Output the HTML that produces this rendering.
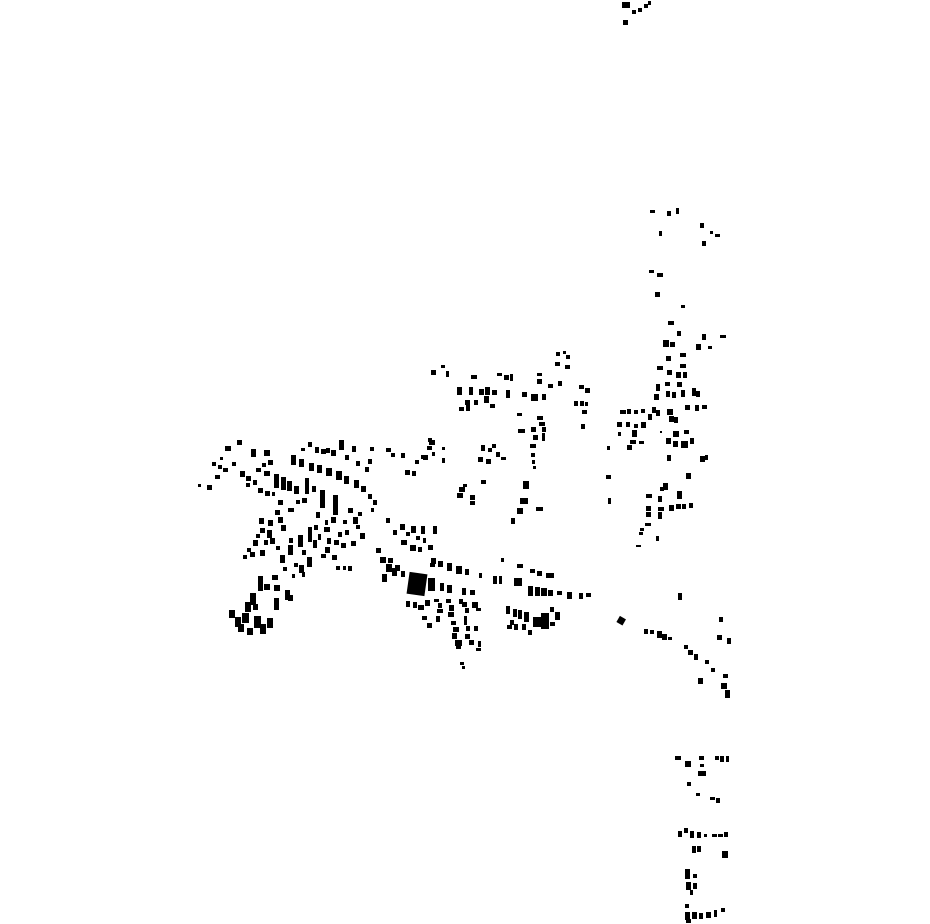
<!DOCTYPE html>
<html><head><meta charset="utf-8"><style>html,body{margin:0;padding:0;background:#fff}svg{display:block}</style></head>
<body>
<svg width="930" height="924" viewBox="0 0 930 924" xmlns="http://www.w3.org/2000/svg">
<g fill="#000">
<rect x="622" y="2" width="8" height="6"/><rect x="632" y="10" width="4" height="4"/><rect x="638" y="8" width="4" height="4"/><rect x="644" y="4" width="4" height="4"/><rect x="648" y="1" width="3" height="4"/><rect x="623" y="20" width="5" height="5"/>
<path d="M650 210h5v3h-5zM667 211h4v5h-4zM676 208h3v6h-3zM700 223h4v5h-4zM710 231h3v3h-3zM715 234h5v3h-5zM659 231h3v5h-3zM702 241h4v5h-4zM649 270h5v3h-5zM657 273h6v4h-6zM655 292h5v5h-5zM681 305h4v3h-4zM668 321h6v4h-6zM677 331h4v5h-4zM702 334h4v6h-4zM720 335h6v3h-6zM663 340h6v7h-6zM670 342h5v5h-5zM696 344h5v6h-5zM708 346h4v3h-4zM680 353h6v4h-6zM666 356h5v5h-5zM680 364h6v4h-6zM657 366h6v4h-6zM667 370h5v5h-5zM676 372h5v6h-5zM683 372h4v6h-4zM656 384h4v7h-4zM665 382h5v4h-5zM677 382h5v5h-5zM654 394h5v6h-5zM666 391h4v6h-4zM672 392h4v6h-4zM681 390h4v7h-4zM692 388h4v8h-4zM696 391h4v6h-4zM685 405h5v5h-5zM695 405h4v6h-4zM702 405h5v4h-5zM620 410h6v4h-6zM627 409h4v5h-4zM634 410h4v4h-4zM641 409h4v4h-4zM652 407h4v6h-4zM656 410h4v6h-4zM648 414h4v6h-4zM667 409h6v6h-6zM669 416h5v6h-5zM674 417h4v6h-4zM617 422h5v5h-5zM626 422h4v5h-4zM634 424h4v4h-4zM641 422h5v6h-5zM632 430h5v7h-5zM618 432h3v4h-3zM660 431h2v2h-2zM673 431h6v6h-6zM684 430h5v4h-5zM630 440h6v4h-6zM639 441h5v3h-5zM627 445h5v5h-5zM666 438h5v6h-5zM673 441h5v6h-5zM681 441h7v7h-7zM690 438h4v6h-4zM607 446h3v4h-3zM667 455h4v6h-4zM700 456h5v6h-5zM705 455h3v5h-3zM606 475h5v4h-5zM686 473h5v6h-5zM663 483h5v7h-5zM660 487h4v4h-4zM646 494h6v4h-6zM658 496h4v6h-4zM677 491h5v8h-5zM608 498h3v6h-3zM646 506h5v5h-5zM658 507h6v4h-6zM669 505h5v6h-5zM676 504h5v5h-5zM682 504h4v5h-4zM689 503h4v5h-4zM646 512h5v5h-5zM658 512h4v7h-4zM645 523h6v3h-6zM640 528h4v3h-4zM639 532h4v3h-4zM656 536h3v5h-3zM636 545h5v2h-5z"/>
<path d="M431 370h5v5h-5zM441 365h4v3h-4zM446 371h3v6h-3zM471 375h6v4h-6zM497 373h5v3h-5zM504 375h5v5h-5zM510 374h3v7h-3zM537 373h5v3h-5zM537 379h5v5h-5zM548 384h5v4h-5zM558 381h4v5h-4zM556 352h4v4h-4zM563 351h3v3h-3zM566 355h4v4h-4zM555 362h5v4h-5zM565 365h5v4h-5zM457 387h5v8h-5zM469 387h4v8h-4zM479 389h5v6h-5zM485 387h5v8h-5zM492 390h5v5h-5zM506 390h4v8h-4zM522 392h5v5h-5zM531 394h7v7h-7zM542 394h4v6h-4zM579 385h5v4h-5zM585 388h5v5h-5zM574 401h4v5h-4zM580 401h4v5h-4zM585 402h3v4h-3zM582 410h5v4h-5zM581 424h4v5h-4zM465 400h5v5h-5zM474 400h4v5h-4zM484 396h5v7h-5zM490 404h5v4h-5zM459 407h5v4h-5zM466 405h4v6h-4zM517 413h5v3h-5zM537 416h6v4h-6zM539 422h6v4h-6zM531 427h5v5h-5zM542 427h4v5h-4zM518 429h7v4h-7zM533 435h5v5h-5zM542 433h3v8h-3zM530 444h6v4h-6zM531 453h4v4h-4zM532 460h3v4h-3zM533 466h3v3h-3zM429 440h6v5h-6zM427 446h5v4h-5zM442 447h3v3h-3zM423 455h5v5h-5zM442 458h3v5h-3zM481 445h4v6h-4zM488 448h4v4h-4zM492 444h4v4h-4zM496 452h4v5h-4zM501 457h5v3h-5zM478 457h5v5h-5zM486 459h5v5h-5zM481 480h5v4h-5zM523 481h6v8h-6zM459 487h6v5h-6zM463 484h4v3h-4zM457 493h6v5h-6zM470 495h5v5h-5zM470 501h5v4h-5zM520 498h8v6h-8zM536 507h7v4h-7zM517 508h6v6h-6zM511 518h4v6h-4z"/>
<path d="M237 440h5v5h-5zM225 446h6v5h-6zM212 462h4v4h-4zM218 465h4v4h-4zM223 468h5v4h-5zM215 475h5v4h-5zM198 484h3v3h-3zM207 485h5v5h-5zM240 471h5v6h-5zM246 476h5v5h-5zM253 480h4v5h-4zM258 488h5v5h-5zM265 491h5v5h-5zM251 449h5v8h-5zM264 450h6v6h-6zM268 460h5v5h-5zM256 468h5v4h-5zM264 471h6v5h-6zM274 474h5v14h-5zM281 477h5v13h-5zM287 481h5v10h-5zM294 486h5v8h-5zM305 478h4v16h-4zM302 498h5v5h-5zM288 508h6v4h-6zM278 500h5v5h-5zM275 510h5v5h-5zM259 518h5v6h-5zM268 520h5v6h-5zM260 528h5v5h-5zM253 540h5v6h-5zM250 552h5v5h-5zM260 550h5v6h-5zM267 530h5v8h-5zM270 538h5v6h-5zM278 517h5v6h-5zM281 525h5v6h-5zM301 448h4v3h-4zM315 447h4v6h-4zM321 449h5v5h-5zM331 450h5v6h-5zM339 440h5v10h-5zM352 446h4v6h-4zM370 447h4v4h-4zM386 448h5v4h-5zM391 453h4v4h-4zM356 461h4v5h-4zM368 459h4v5h-4zM365 467h4v5h-4zM291 455h5v10h-5zM299 459h5v8h-5zM309 463h5v8h-5zM317 465h5v8h-5zM326 468h6v8h-6zM336 471h6v9h-6zM344 476h5v8h-5zM354 480h5v8h-5zM361 486h5v6h-5zM368 494h4v5h-4zM373 500h4v5h-4zM371 508h3v4h-3zM386 518h4v5h-4zM393 530h4v5h-4zM320 490h5v18h-5zM333 495h5v20h-5zM316 512h4v6h-4zM324 527h6v5h-6zM331 517h5v6h-5zM348 508h5v5h-5zM353 517h5v7h-5zM360 533h5v6h-5zM345 530h4v5h-4zM334 540h5v5h-5zM341 543h5v5h-5zM351 541h5v5h-5zM325 547h5v6h-5zM321 554h5v4h-5zM332 555h5v5h-5zM336 566h4v4h-4zM343 566h3v4h-3zM348 566h4v5h-4zM308 527h4v15h-4zM298 535h5v12h-5zM288 545h5v10h-5zM280 555h5v8h-5zM299 565h5v8h-5zM307 557h5v10h-5zM258 576h5v15h-5zM264 584h6v6h-6zM274 585h6v6h-6zM285 590h5v10h-5zM272 575h6v5h-6zM250 593h6v12h-6zM245 602h6v10h-6zM242 613h7v10h-7zM235 617h6v10h-6zM229 610h6v8h-6zM254 616h7v12h-7zM260 624h6v10h-6zM267 618h6v10h-6zM247 628h6v7h-6zM274 598h5v12h-5zM288 595h5v6h-5z"/>
<path d="M308 442h4v5h-4zM326 448h4v5h-4zM345 455h4v5h-4zM262 463h4v4h-4zM232 462h4v4h-4zM220 457h3v3h-3zM246 483h4v4h-4zM272 492h3v4h-3zM312 486h4v6h-4zM296 500h4v4h-4zM264 540h4v5h-4zM256 534h4v4h-4zM276 546h4v4h-4zM243 555h4v4h-4zM313 540h4v8h-4zM318 534h3v6h-3zM327 538h4v6h-4zM338 532h4v5h-4zM343 520h4v4h-4zM358 512h4v4h-4zM356 525h4v4h-4zM294 563h4v4h-4zM283 567h4v4h-4zM292 574h3v4h-3zM302 572h3v5h-3zM325 520h3v5h-3zM314 525h4v5h-4zM302 550h4v5h-4zM289 538h4v5h-4zM247 548h4v4h-4zM253 604h5v6h-5zM238 624h6v8h-6z"/>
<path d="M401 453h4v5h-4zM428 438h4v4h-4zM432 452h3v4h-3zM421 455h4v4h-4zM415 460h4v4h-4zM405 470h5v5h-5zM412 471h4v5h-4zM400 524h5v6h-5zM411 526h5v7h-5zM421 526h4v8h-4zM433 526h4v8h-4zM401 540h6v5h-6zM410 545h6v6h-6zM418 547h4v5h-4zM428 545h5v5h-5zM388 558h5v5h-5zM395 565h5v6h-5zM431 558h5v6h-5zM439 561h4v4h-4zM406 532h4v4h-4zM416 536h4v4h-4zM423 538h3v5h-3z"/>
<path d="M376 548h5v5h-5zM380 557h6v6h-6zM386 564h6v8h-6zM392 568h5v8h-5zM382 574h5v8h-5zM401 571h4v6h-4z"/>
<rect x="408" y="573" width="18" height="22" transform="rotate(8 417 584)"/>
<path d="M428 578h7v13h-7zM440 583h4v8h-4zM447 585h5v8h-5zM462 588h4v7h-4zM470 590h5v5h-5zM430 563h5v4h-5zM438 561h5v6h-5zM447 563h5v8h-5zM456 566h6v8h-6zM465 569h4v6h-4zM479 573h3v5h-3zM493 576h4v8h-4zM499 576h3v8h-3zM501 558h3v4h-3zM517 564h6v4h-6zM530 569h5v4h-5zM537 571h5v5h-5zM546 573h8v5h-8zM514 578h8v8h-8zM528 586h5v10h-5zM535 587h5v9h-5zM541 588h6v8h-6zM548 590h5v6h-5zM557 591h5v4h-5zM567 592h5v7h-5zM579 593h4v6h-4zM586 593h5v4h-5zM406 601h4v6h-4zM413 602h4v6h-4zM418 605h6v5h-6zM425 600h5v6h-5zM434 599h5v3h-5zM438 603h4v5h-4zM446 599h5v4h-5zM449 605h5v6h-5zM459 599h4v5h-4zM462 602h5v5h-5zM472 602h6v6h-6zM437 609h6v4h-6zM448 612h6v5h-6zM465 608h4v5h-4zM476 608h5v3h-5zM422 616h5v4h-5zM436 616h4v6h-4zM451 621h5v4h-5zM464 616h3v9h-3zM453 627h6v5h-6zM466 626h4v5h-4zM474 626h4v5h-4zM452 633h5v6h-5zM465 634h5v5h-5zM455 640h7v6h-7zM469 640h5v5h-5zM478 641h3v6h-3zM456 646h5v3h-5zM476 648h5v3h-5zM427 623h5v5h-5zM460 662h4v3h-4zM462 666h3v3h-3zM506 606h4v8h-4zM513 609h4v8h-4zM518 610h4v9h-4zM524 612h5v10h-5zM533 617h8v10h-8zM541 613h8v16h-8zM550 607h4v5h-4zM555 612h5v8h-5zM550 622h5v4h-5zM510 620h4v5h-4zM507 625h5v4h-5zM514 624h4v6h-4zM522 624h4v6h-4zM528 630h4v5h-4z"/>
<rect x="618" y="617" width="7" height="7" transform="rotate(30 621 620)"/>
<path d="M678 593h4v7h-4zM644 629h4v5h-4zM650 630h4v4h-4zM657 631h5v7h-5zM662 634h5v6h-5zM668 637h4v3h-4zM684 645h4v4h-4zM688 650h5v5h-5zM694 654h4v6h-4zM705 660h4v4h-4zM711 668h4v4h-4zM698 678h5v6h-5zM719 617h4v5h-4zM717 635h5v5h-5zM727 638h4v6h-4zM723 674h5v4h-5zM721 683h6v6h-6zM725 690h5v8h-5zM675 756h6v4h-6zM685 761h6v6h-6zM699 756h5v4h-5zM700 764h4v3h-4zM698 771h8v5h-8zM715 756h4v4h-4zM720 756h4v6h-4zM726 756h3v6h-3zM687 782h4v4h-4zM696 793h4v3h-4zM710 797h5v3h-5zM716 798h4v5h-4zM678 831h4v6h-4zM684 828h4v5h-4zM690 831h4v7h-4zM697 832h4v6h-4zM704 834h3v3h-3zM712 834h5v3h-5zM718 834h5v3h-5zM724 832h4v5h-4zM692 846h4v7h-4zM697 846h4v6h-4zM722 851h6v7h-6zM685 869h5v10h-5zM693 874h4v4h-4zM686 882h5v8h-5zM693 883h4v6h-4zM690 890h3v5h-3zM685 904h4v4h-4zM685 912h5v8h-5zM692 912h5v7h-5zM699 913h4v6h-4zM706 912h5v6h-5zM714 910h3v7h-3zM721 908h4v4h-4zM686 919h5v4h-5z"/>
</g>
</svg>
</body></html>
